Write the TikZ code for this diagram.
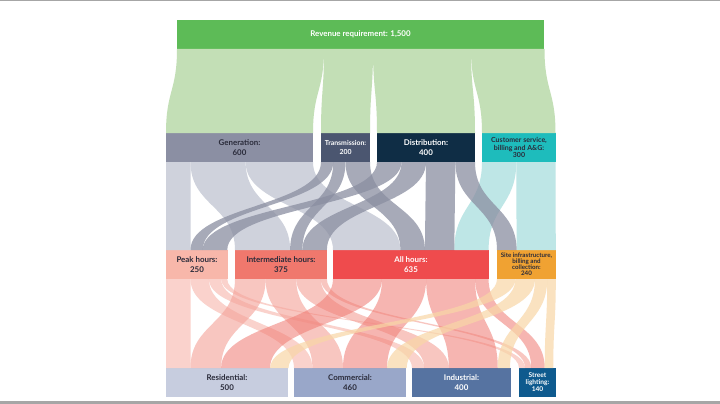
\documentclass[tikz,border=0pt]{standalone}
\usepackage{fontspec}
\setmainfont{Lato}
\usepackage{tikz}
\usepackage{xcolor}
\usetikzlibrary{calc, positioning}

\definecolor{revgreen}{HTML}{5DBB57}
\definecolor{greenfl}{HTML}{C3DFB6}
\definecolor{gencol}{HTML}{8B8FA3}
\definecolor{transcol}{HTML}{4B5670}
\definecolor{distcol}{HTML}{0F2D45}
\definecolor{custcol}{HTML}{1EBCBC}
\definecolor{peakcol}{HTML}{F8B7AA}
\definecolor{intercol}{HTML}{F0786D}
\definecolor{allcol}{HTML}{EF4B4D}
\definecolor{sitecol}{HTML}{F0A232}
\definecolor{rescol}{HTML}{C7CDDF}
\definecolor{comcol}{HTML}{99A7C9}
\definecolor{indcol}{HTML}{5673A1}
\definecolor{streetcol}{HTML}{0E5A8E}
\definecolor{genfl}{HTML}{CFD2DC}
\definecolor{tdfl}{HTML}{8A8EA1}
\definecolor{custfl}{HTML}{BEE6E6}
\definecolor{peakfl}{HTML}{F9C3BB}
\definecolor{interfl}{HTML}{F4A097}
\definecolor{allfl}{HTML}{F07A72}
\definecolor{sitefl}{HTML}{F8D6A6}
\definecolor{darktxt}{HTML}{2A2B3A}

\begin{document}
\begin{tikzpicture}[x=1pt, y=-1pt,
  box/.style={anchor=north west, inner sep=0pt, outer sep=0pt,
              minimum height=29pt, align=center,
              font=\fontsize{7.9}{9.2}\selectfont\bfseries},
  small/.style={font=\fontsize{6.2}{6}\selectfont\bfseries}]
\useasboundingbox (0,0) rectangle (720,404);
\fill[white] (0,0) rectangle (720,404);
\fill[gray!70] (0,0) rectangle (720,1);
\fill[gray!70] (0,401) rectangle (720,404);
\pgfmathsetmacro{\sc}{0.245}

% boxes
\node[box, fill=revgreen, text=white, minimum width=367pt] (rev) at (177,20) {Revenue requirement: 1,500};

\node[box, fill=gencol, text=darktxt, minimum width=147pt] (gen) at (166,133) {Generation:\\600};
\node[box, fill=transcol, text=white, minimum width=49pt,
      font=\fontsize{6.9}{8.5}\selectfont\bfseries] (trans) at (321,133) {Transmission:\\200};
\node[box, fill=distcol, text=white, minimum width=98pt] (dist) at (377,133) {Distribution:\\400};
\node[box, fill=custcol, text=darktxt, minimum width=74pt,
      font=\fontsize{7}{7.2}\selectfont\bfseries] (cust) at (482,133) {Customer service,\\billing and A\&G:\\300};

\node[box, fill=peakcol, text=darktxt, minimum width=62pt] (peak) at (166,250) {Peak hours:\\250};
\node[box, fill=intercol, text=darktxt, minimum width=92pt] (inter) at (235,250) {Intermediate hours:\\375};
\node[box, fill=allcol, text=white, minimum width=156pt] (allh) at (333,250) {All hours:\\635};
\node[box, small, fill=sitecol, text=darktxt, minimum width=59pt] (site) at (497,250) {Site infrastructure,\\billing and\\collection:\\240};

\node[box, fill=rescol, text=darktxt, minimum width=122pt] (res) at (166,368) {Residential:\\500};
\node[box, fill=comcol, text=darktxt, minimum width=112pt] (com) at (294,368) {Commercial:\\460};
\node[box, fill=indcol, text=white, minimum width=99pt] (ind) at (412,368) {Industrial:\\400};
\node[box, fill=streetcol, text=white, minimum width=37pt,
      font=\fontsize{6.6}{7}\selectfont\bfseries] (street) at (519,368) {Street\\lighting:\\140};

% flows: source/offset/target/offset/value/colour/opacity
\foreach \src/\sx/\dst/\dx/\val/\col/\op in {
  rev/0/gen/0/600/greenfl/1,
  rev/600/trans/0/200/greenfl/1,
  rev/800/dist/0/400/greenfl/1,
  rev/1200/cust/0/300/greenfl/1,
  gen/0/peak/0/100/genfl/1,
  gen/100/inter/0/225/genfl/1,
  gen/325/allh/0/275/genfl/1,
  cust/0/allh/495/140/custfl/1,
  cust/140/site/80/160/custfl/1,
  trans/0/peak/100/50/tdfl/0.75,
  trans/50/inter/225/50/tdfl/0.75,
  trans/100/allh/275/100/tdfl/0.75,
  dist/0/peak/150/100/tdfl/0.75,
  dist/100/inter/275/100/tdfl/0.75,
  dist/200/allh/375/120/tdfl/0.75,
  dist/320/site/0/80/tdfl/0.75,
  peak/0/res/0/100/peakfl/0.75,
  peak/100/com/0/75/peakfl/0.75,
  peak/175/ind/0/50/peakfl/0.75,
  peak/225/street/0/25/peakfl/0.75,
  inter/0/res/100/125/interfl/0.6,
  inter/125/com/75/125/interfl/0.6,
  inter/250/ind/50/100/interfl/0.6,
  inter/350/street/25/25/interfl/0.6,
  allh/0/res/225/200/allfl/0.55,
  allh/200/com/200/180/allfl/0.55,
  allh/380/ind/150/200/allfl/0.55,
  allh/580/street/50/55/allfl/0.55,
  site/0/res/425/75/sitefl/0.7,
  site/75/com/380/80/sitefl/0.7,
  site/155/ind/350/50/sitefl/0.7,
  site/205/street/105/35/sitefl/0.7%
}{
  \path (\src.south west) ++(\sx*\sc,0) coordinate (s1) ++(\val*\sc,0) coordinate (s2);
  \path (\dst.north west) ++(\dx*\sc,0) coordinate (d1) ++(\val*\sc,0) coordinate (d2);
  \coordinate (m) at ($(s1)!0.5!(d1)$);
  \fill[fill=\col, fill opacity=\op]
    (s1) .. controls (s1 |- m) and (d1 |- m) .. (d1) -- (d2)
    .. controls (d2 |- m) and (s2 |- m) .. (s2) -- cycle;
}
\end{tikzpicture}
\end{document}
